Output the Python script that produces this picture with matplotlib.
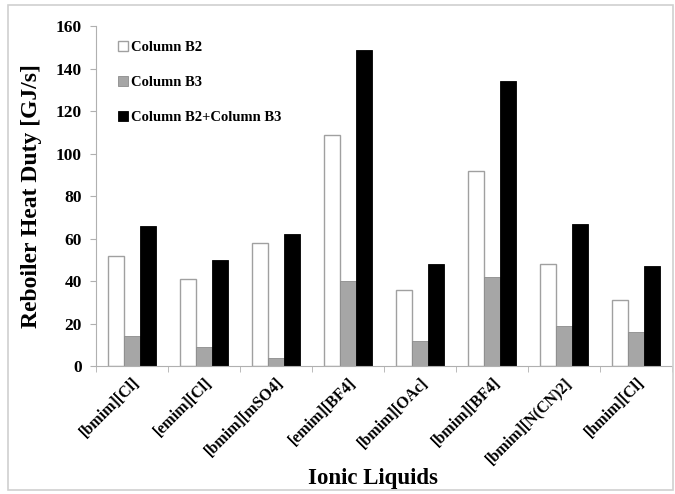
import matplotlib.pyplot as plt
import numpy as np
from matplotlib.patches import Rectangle

liquids = ['[bmim][Cl]', '[emim][Cl]', '[bmim][mSO4]', '[emim][BF4]',
           '[bmim][OAc]', '[bmim][BF4]', '[bmim][N(CN)2]', '[hmim][Cl]']
col_b2 = [52, 41, 58, 109, 36, 92, 48, 31]
col_b3 = [14, 9, 4, 40, 12, 42, 19, 16]
col_total = [66, 50, 62, 149, 48, 134, 67, 47]

plt.rcParams['font.family'] = ['Liberation Serif', 'DejaVu Serif']
plt.rcParams['font.weight'] = 'bold'

fig = plt.figure(figsize=(6.75, 4.94), dpi=100)
ax = fig.add_axes([0.142, 0.259, 0.854, 0.688])

# light frame round the whole chart
fig.patches.append(Rectangle((0.012, 0.008), 0.985, 0.982, transform=fig.transFigure,
                             fill=False, edgecolor='#d0d0d0', linewidth=1.2))

x = np.arange(len(liquids))
w = 0.22
ax.bar(x - w, col_b2, w, color='white', edgecolor='#a0a0a0', linewidth=1, label='Column B2')
ax.bar(x, col_b3, w, color='#a6a6a6', edgecolor='#8c8c8c', linewidth=0.6, label='Column B3')
ax.bar(x + w, col_total, w, color='black', edgecolor='black', linewidth=0.6,
       label='Column B2+Column B3')

ax.set_xlim(-0.5, len(liquids) - 0.5)
ax.set_ylim(0, 160)
ax.set_yticks(range(0, 161, 20))
ax.set_xticks(x)
ax.set_xticklabels(liquids, rotation=45, ha='right', rotation_mode='anchor',
                   fontsize=11.5, fontweight='bold')
ax.set_xticks(np.arange(-0.5, len(liquids)), minor=True)
ax.tick_params(axis='x', which='major', length=0, pad=6)
ax.tick_params(axis='x', which='minor', length=4, color='#b0b0b0', direction='out')
ax.tick_params(axis='y', length=4, color='#b0b0b0', labelsize=12.5, pad=6)
for lbl in ax.get_yticklabels():
    lbl.set_fontweight('bold')

for side in ['top', 'right']:
    ax.spines[side].set_visible(False)
ax.spines['left'].set_color('#b0b0b0')
ax.spines['bottom'].set_color('#b0b0b0')

ax.set_ylabel('Reboiler Heat Duty [GJ/s]', fontsize=17, fontweight='bold', labelpad=10)
ax.set_xlabel('Ionic Liquids', fontsize=16.5, fontweight='bold', labelpad=4)
ax.xaxis.set_label_coords(0.48, -0.3)

ax.legend(loc='upper left', bbox_to_anchor=(0.015, 0.995), frameon=False,
          handlelength=0.7, handleheight=0.7, handletextpad=0.2,
          labelspacing=1.5, prop={'weight': 'bold', 'size': 10.5})

fig.savefig('out.png', dpi=100, facecolor='white')
